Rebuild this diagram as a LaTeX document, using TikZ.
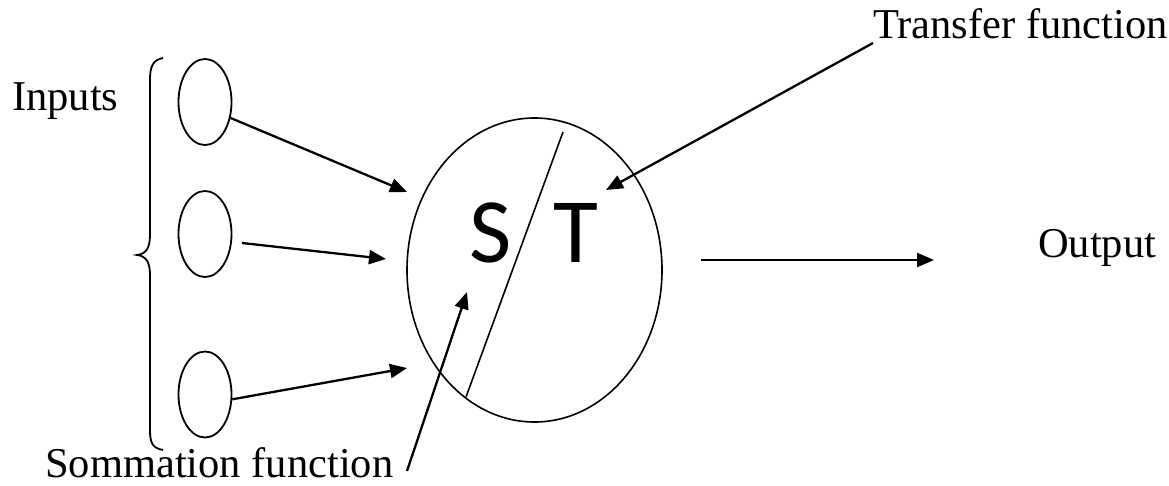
\documentclass[tikz,border=0pt]{standalone}
\usepackage{fontspec}
\setmainfont{Liberation Serif}
\newfontfamily\stfont{Carlito}
\usetikzlibrary{arrows.meta,shapes.geometric}
\begin{document}
\begin{tikzpicture}[x=1pt,y=-1pt,
  lbl/.style={inner sep=0pt,anchor=base west,font=\fontsize{42.5}{50}\selectfont},
  inp/.style={draw,line width=1.8pt,ellipse,minimum width=53pt,minimum height=86pt,inner sep=0pt},
  conn/.style={line width=2.3pt,-{Triangle[length=17pt,width=14pt]}},
  letter/.style={inner sep=0pt,anchor=base west,font=\stfont\fontsize{92}{100}\selectfont}]
\useasboundingbox (0,0) rectangle (1169,485);
% labels
\node[lbl] (inputs) at (12,110) {Inputs};
\node[lbl] (transfer) at (873,38) {Transfer function};
\node[lbl] (somm) at (45,477) {Sommation function};
\node[lbl] (output) at (1038,257) {Output};
% brace
\draw[line width=1.8pt] (163,58) .. controls (153,60) and (150,66) .. (150,80)
  -- (150,235) .. controls (150,248) and (146,254) .. (137,255)
  .. controls (146,256) and (150,262) .. (150,275)
  -- (150,430) .. controls (150,444) and (153,448) .. (163,450);
% input neurons
\node[inp] (in1) at (205,102) {};
\node[inp] (in2) at (205,234) {};
\node[inp] (in3) at (205,394.5) {};
% main neuron
\node[draw,line width=1.6pt,ellipse,minimum width=255pt,minimum height=304pt,inner sep=0pt] (neuron) at (534.5,270) {};
\coordinate (d1) at (563,132);
\coordinate (d2) at (466,397);
\draw[line width=1.6pt] (d1) -- (d2);
\node[letter] (S) at (469,262) {S};
\node[letter] (T) at (553,262) {T};
% arrow endpoints
\coordinate (t1) at (407,192);
\coordinate (s2) at (242,243);
\coordinate (t2) at (386,259);
\coordinate (t3) at (407,368);
\coordinate (tf0) at (873,43);
\coordinate (tf1) at (606,190);
\coordinate (sf0) at (407,471);
\coordinate (sf1) at (467,292);
\coordinate (o0) at (701,260);
\coordinate (o1) at (934,260);
% connectors
\draw[conn] (in1.-32) -- (t1);
\draw[conn] (s2) -- (t2);
\draw[conn] (in3.-10) -- (t3);
\draw[conn] (tf0) -- (tf1);
\draw[conn] (sf0) -- (sf1);
\draw[conn] (o0) -- (o1);
\end{tikzpicture}
\end{document}
